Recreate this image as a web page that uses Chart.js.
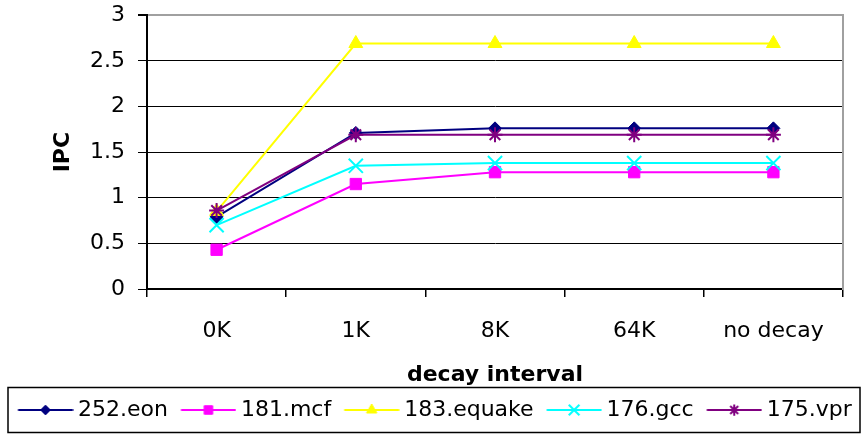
<!DOCTYPE html>
<html>
<head>
<meta charset="utf-8">
<script src="https://cdn.jsdelivr.net/npm/chart.js@4"></script>
<style>
  html, body { margin: 0; padding: 0; background: #fff; }
  #wrap { width: 864px; height: 434px; }
</style>
</head>
<body>
<div id="wrap"><canvas id="chart"></canvas></div>
<script>
// categories and series
const categories = ['0K', '1K', '8K', '64K', 'no decay'];
const eon = [0.79, 1.71, 1.76, 1.76, 1.76];
const mcf = [0.43, 1.15, 1.28, 1.28, 1.28];
const equake = [0.85, 2.69, 2.69, 2.69, 2.69];
const gcc = [0.70, 1.35, 1.38, 1.38, 1.38];
const vpr = [0.86, 1.69, 1.69, 1.69, 1.69];
const yTicks = [0, 0.5, 1, 1.5, 2, 2.5, 3];

const series = [
    { label: '252.eon', data: eon, color: '#000080', style: 'rectRot', r: 6.5, bw: 1 },
    { label: '181.mcf', data: mcf, color: '#FF00FF', style: 'rect', r: 8, bw: 1 },
    { label: '183.equake', data: equake, color: '#FFFF00', style: 'triangle', r: 8, bw: 1 },
    { label: '176.gcc', data: gcc, color: '#00FFFF', style: 'crossRot', r: 10, bw: 2 },
    { label: '175.vpr', data: vpr, color: '#800080', style: 'star', r: 7.5, bw: 2 }
];

Chart.defaults.font.family = '"DejaVu Sans", sans-serif';
Chart.defaults.font.size = 22;
Chart.defaults.color = '#000';

// line + marker swatch for the legend (drawn off-centre so the text sits close)
function legendIcon(s) {
    const c = document.createElement('canvas');
    c.width = 66;
    c.height = 20;
    const ctx = c.getContext('2d');
    ctx.strokeStyle = s.color;
    ctx.fillStyle = s.color;
    ctx.lineWidth = 2;
    ctx.beginPath();
    ctx.moveTo(10.5, 10);
    ctx.lineTo(65.5, 10);
    ctx.stroke();
    ctx.lineWidth = s.bw;
    Chart.helpers.drawPoint(ctx, { pointStyle: s.style, radius: s.r * 0.75, borderWidth: s.bw, rotation: 0 }, 38, 10);
    return c;
}

// box round the legend, like the spreadsheet original
const legendFrame = {
    id: 'legendFrame',
    afterDraw(chart) {
        const hb = chart.legend.legendHitBoxes;
        if (!hb || !hb.length) return;
        const last = hb[hb.length - 1];
        const left = hb[0].left - 6;
        const right = Math.min(chart.width - 4, last.left + last.width + 9);
        const cy = hb[0].top + hb[0].height / 2;
        const ctx = chart.ctx;
        ctx.save();
        ctx.strokeStyle = '#000';
        ctx.lineWidth = 1.5;
        ctx.strokeRect(left, cy - 22.5, right - left, 45);
        ctx.restore();
    }
};

new Chart(document.getElementById('chart'), {
    type: 'line',
    data: {
        labels: categories,
        datasets: series.map((s, i) => ({
            label: s.label,
            data: s.data,
            borderColor: s.color,
            backgroundColor: s.color,
            borderWidth: 2,
            pointStyle: s.style,
            pointRadius: s.r,
            pointBackgroundColor: s.color,
            pointBorderColor: s.color,
            pointBorderWidth: s.bw,
            tension: 0,
            clip: false,
            order: series.length - i
        }))
    },
    options: {
        responsive: true,
        maintainAspectRatio: false,
        animation: false,
        layout: { padding: { top: 15, left: 5, right: 0, bottom: 3 } },
        plugins: {
            tooltip: { enabled: false },
            legend: {
                position: 'bottom',
                align: 'start',
                labels: {
                    usePointStyle: true,
                    pointStyleWidth: 53,
                    padding: 9,
                    color: '#000',
                    font: { size: 22 },
                    generateLabels: () => series.map((s, i) => ({
                        text: s.label,
                        pointStyle: legendIcon(s),
                        fillStyle: s.color,
                        strokeStyle: s.color,
                        lineWidth: 0,
                        fontColor: '#000',
                        hidden: false,
                        datasetIndex: i
                    }))
                }
            }
        },
        scales: {
            x: {
                offset: true,
                grid: {
                    offset: true,
                    drawOnChartArea: false,
                    tickLength: 8,
                    color: '#000',
                    lineWidth: 1.5
                },
                border: { color: '#000', width: 2 },
                ticks: { padding: 21, color: '#000', maxRotation: 0, autoSkip: false },
                title: {
                    display: true,
                    text: 'decay interval',
                    color: '#000',
                    font: { size: 22, weight: 'bold' },
                    padding: { top: 0, bottom: 2 }
                },
                afterFit: (s) => { s.height = 101; }
            },
            y: {
                min: 0,
                max: 3,
                afterBuildTicks: (s) => { s.ticks = yTicks.map(v => ({ value: v })); },
                grid: {
                    color: (c) => (c.tick && c.tick.value === 3 ? '#a0a0a0' : '#000'),
                    lineWidth: (c) => (c.tick && c.tick.value === 3 ? 2 : 1),
                    tickColor: '#000',
                    tickLength: 9
                },
                border: { color: '#000', width: 2 },
                ticks: {
                    padding: 13,
                    color: '#000',
                    font: { size: 22, lineHeight: 0.2 },
                    callback: (v) => String(v)
                },
                title: {
                    display: true,
                    text: 'IPC',
                    color: '#000',
                    font: { size: 22, weight: 'bold' },
                    padding: { top: 45, bottom: 0 }
                },
                afterFit: (s) => { s.width = 142; }
            },
            y2: {
                position: 'right',
                grid: { display: false },
                ticks: { display: false },
                border: { color: '#a0a0a0', width: 2 },
                afterFit: (s) => { s.width = 21; }
            }
        }
    },
    plugins: [legendFrame]
});
</script>
</body>
</html>
